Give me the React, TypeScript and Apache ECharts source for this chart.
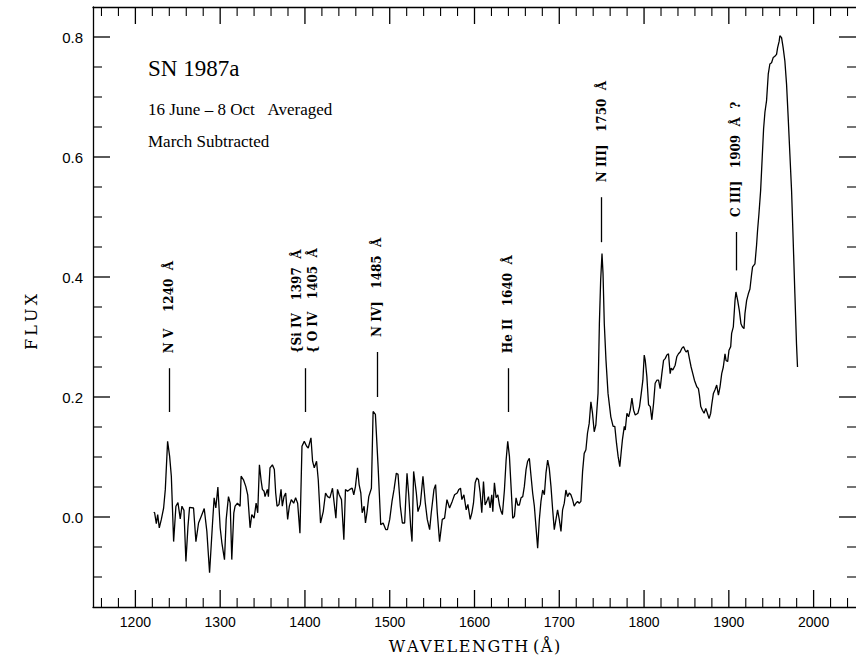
import React, { useEffect, useRef } from 'react';
import * as echarts from 'echarts';

// Spectrum: [wavelength (Å), flux]
const shortRegion: [number, number][] = [
  [1221.6,0.008],[1222.7,0.007],[1224.7,-0.011],[1226.3,0.004],[1228.2,-0.018],[1230.6,-0.004],[1233.3,0.015],[1235.3,0.046],[1238.0,0.126],[1240.4,0.101],
  [1242.4,0.068],[1245.1,-0.041],[1247.8,0.018],[1250.2,0.024],[1252.9,-0.003],[1254.9,0.018],[1257.3,0.011],[1259.6,-0.074],[1262.0,-0.016],[1263.9,0.016],
  [1268.6,0.015],[1271.4,-0.041],[1274.5,-0.010],[1277.6,0.001],[1281.2,0.014],[1284.3,-0.024],[1287.5,-0.093],[1291.0,-0.010],[1292.9,0.032],[1294.9,0.015],
  [1297.3,0.050],[1300.0,-0.018],[1302.0,-0.043],[1305.1,-0.071],[1307.1,-0.004],[1309.8,0.034],[1311.8,0.023],[1313.7,-0.071],[1316.1,0.007],[1317.6,0.018],
  [1320.4,0.023],[1323.5,0.018],[1324.7,0.068],[1327.5,0.062],[1330.2,0.051],[1332.5,0.037],[1335.3,-0.018],[1337.3,0.004],[1340.0,-0.002],[1342.4,0.023],
  [1344.3,0.007],[1346.3,0.087],[1348.2,0.062],[1349.8,0.046],[1351.8,0.043],[1352.9,0.034],[1355.7,0.046],[1356.9,0.034],[1358.8,0.082],[1361.6,0.087],
  [1363.9,0.079],[1365.5,0.040],[1367.1,0.018],[1369.4,0.021],[1371.8,0.046],[1373.3,0.018],[1375.3,0.034],[1377.3,0.040],[1379.6,-0.004],[1381.6,0.018],
  [1383.9,0.029],[1386.7,0.023],[1389.0,0.032],[1391.4,0.023],[1394.1,-0.027],[1396.5,0.118],[1399.2,0.126],[1402.0,0.118],[1403.9,0.115],[1407.1,0.132],
  [1409.0,0.093],[1411.0,0.082],[1413.7,0.093],[1415.7,0.062],[1418.4,-0.010],[1421.6,0.009],[1424.3,0.040],[1426.7,0.034],[1429.4,0.032],[1432.5,0.048],
  [1434.5,0.023],[1436.5,-0.002],[1438.4,0.046],[1440.4,0.037],[1443.1,0.029],[1445.9,-0.038],[1447.8,0.046],[1450.2,0.043],[1452.9,0.046],[1455.7,0.048],
  [1457.6,0.037],[1459.6,0.051],[1462.0,0.082],[1463.9,0.054],[1465.9,0.040],[1467.5,0.007],[1469.8,0.018],[1471.4,-0.010],[1473.3,0.009],[1475.3,0.034],
  [1478.4,0.048],[1480.4,0.176],[1483.1,0.171],[1486.3,0.084],[1489.4,-0.013],[1492.2,-0.010],[1495.3,-0.021],[1497.3,-0.021],[1500.0,-0.004],[1502.7,0.026],
  [1505.1,0.046],[1507.8,0.073],[1509.8,0.071],[1512.5,0.018],[1514.9,-0.010],[1517.6,-0.010],[1520.4,0.073],[1522.4,0.037],[1524.7,-0.016],[1526.3,-0.041],
  [1528.2,0.076],[1531.4,0.040],[1533.3,0.009],[1536.1,0.021],[1539.2,0.068],[1542.0,0.023],[1544.3,-0.004],[1547.1,-0.021],[1549.0,0.007],[1552.2,0.046],
  [1554.1,0.054],[1556.1,0.007],[1558.8,-0.041],[1562.0,-0.004],[1564.7,-0.002],[1567.5,0.029],[1570.6,0.015],[1573.7,0.026],[1576.5,0.037],[1579.6,0.040],
  [1581.6,0.046],[1583.5,0.048],[1585.1,0.029],[1587.5,0.037],[1590.2,0.012],[1592.2,0.021],
];

const midRegion: [number, number][] = [
  [1594.9,-0.004],[1596.9,0.007],[1598.8,0.023],[1600.8,0.057],[1602.7,0.065],[1604.7,0.062],[1606.7,0.040],[1608.6,0.007],[1610.6,0.059],[1612.5,0.020],
  [1614.5,0.026],[1616.5,0.034],[1618.4,0.015],[1620.4,0.037],[1621.6,0.009],[1623.5,0.057],[1625.5,0.032],[1627.5,0.037],[1629.4,0.020],[1631.4,0.009],
  [1632.9,0.004],[1635.3,0.045],[1637.3,0.095],[1639.2,0.126],[1641.2,0.101],[1643.1,0.051],[1645.1,-0.002],[1647.1,0.001],[1649.0,0.032],[1651.0,0.020],
  [1652.9,0.020],[1654.9,0.032],[1656.9,0.034],[1658.8,0.051],[1660.8,0.079],[1662.7,0.093],[1664.7,0.098],[1666.7,0.068],[1668.6,0.040],[1670.6,0.018],
  [1672.5,-0.016],[1674.5,-0.052],[1676.5,-0.004],[1678.4,0.026],[1680.4,0.045],[1682.4,0.037],[1684.3,0.073],[1686.3,0.095],[1688.2,0.081],[1690.2,0.051],
  [1692.2,0.012],[1694.1,-0.021],[1696.1,-0.004],[1698.0,0.012],[1700.0,-0.004],[1702.0,-0.024],[1703.9,0.012],[1705.9,0.023],[1707.8,0.045],[1709.8,0.034],
  [1711.8,0.040],[1713.7,0.037],[1715.7,0.029],[1717.6,0.018],[1719.6,0.023],[1721.6,0.026],[1723.5,0.023],[1725.5,0.026],[1727.5,0.076],[1729.4,0.106],
  [1731.4,0.112],[1733.3,0.140],[1735.3,0.156],[1737.3,0.192],[1739.2,0.173],[1741.2,0.142],[1743.1,0.153],
];

const nIIIRegion: [number, number][] = [
  [1745.7,0.206],[1747.3,0.322],[1748.8,0.394],[1750.4,0.439],[1751.6,0.406],[1753.1,0.322],[1755.1,0.261],[1757.5,0.206],
  [1760.8,0.167],[1763.5,0.151],[1765.5,0.151],[1767.5,0.123],[1769.4,0.101],[1771.4,0.084],[1773.3,0.112],[1774.5,0.129],
];

const longRegion: [number, number][] = [
  [1776.7,0.151],[1777.8,0.145],[1779.8,0.173],[1781.8,0.167],[1783.7,0.178],[1785.7,0.198],[1787.7,0.178],[1789.6,0.170],[1792.8,0.173],[1794.7,0.184],
  [1796.7,0.206],[1798.6,0.228],[1800.2,0.270],[1801.4,0.261],[1803.3,0.234],[1805.3,0.187],[1807.3,0.184],[1809.2,0.162],[1811.2,0.189],[1813.1,0.223],
  [1815.1,0.228],[1817.1,0.228],[1819.0,0.214],[1821.0,0.239],[1823.0,0.261],[1824.9,0.264],[1826.9,0.270],[1828.8,0.272],[1830.8,0.239],[1832.0,0.248],
  [1833.9,0.245],[1836.7,0.253],[1838.6,0.267],[1840.6,0.272],[1842.6,0.275],[1844.5,0.281],[1846.5,0.284],[1848.4,0.278],[1849.6,0.275],[1851.6,0.278],
  [1853.5,0.264],[1855.5,0.250],[1857.5,0.239],[1859.4,0.228],[1862.2,0.217],[1864.1,0.214],[1865.3,0.203],[1866.9,0.184],[1868.8,0.178],[1870.8,0.173],
  [1872.8,0.181],[1874.7,0.173],[1876.7,0.164],[1878.6,0.173],[1879.8,0.187],[1881.8,0.206],[1883.7,0.212],[1885.7,0.220],[1887.7,0.203],[1889.6,0.217],
  [1891.6,0.239],[1893.5,0.250],[1895.5,0.272],[1896.7,0.261],[1898.6,0.259],[1900.2,0.278],[1902.2,0.284],[1903.3,0.306],[1905.3,0.317],[1907.3,0.361],
  [1908.4,0.375],[1910.4,0.361],[1912.4,0.344],[1914.3,0.322],[1915.9,0.317],[1917.9,0.314],[1919.0,0.339],[1921.0,0.361],[1923.0,0.372],[1924.9,0.380],
  [1926.9,0.405],[1928.0,0.417],[1930.8,0.422],[1932.7,0.453],[1933.9,0.478],[1935.5,0.505],[1937.5,0.544],[1939.4,0.600],[1941.0,0.647],[1942.6,0.675],
  [1944.5,0.694],[1946.5,0.738],[1948.4,0.755],[1950.4,0.757],[1952.4,0.766],[1954.3,0.768],[1956.3,0.771],[1957.5,0.782],[1959.4,0.793],[1960.2,0.802],
  [1962.2,0.799],[1964.1,0.782],[1966.1,0.760],[1968.1,0.721],[1970.0,0.666],[1972.0,0.605],[1974.0,0.544],[1975.9,0.461],[1977.9,0.372],[1979.8,0.289],
  [1981.0,0.250],
];

// Line identifications
const markerWavelengths = [1240, 1400, 1485, 1640, 1750, 1909];
const markerLow = [0.175, 0.175, 0.200, 0.175, 0.458, 0.411];
const markerHigh = [0.248, 0.248, 0.275, 0.248, 0.533, 0.475];
const NB = '\u00A0';
const markerLabels = [
  `N${NB}V${NB}${NB}${NB}${NB}1240${NB}${NB}Å`,
  `{Si${NB}IV${NB}${NB}${NB}1397${NB}${NB}Å\n{${NB}O${NB}IV${NB}${NB}${NB}1405${NB}${NB}Å`,
  `N${NB}IV]${NB}${NB}${NB}1485${NB}${NB}Å`,
  `He${NB}II${NB}${NB}${NB}1640${NB}${NB}Å`,
  `N${NB}III]${NB}${NB}${NB}1750${NB}${NB}Å`,
  `C${NB}III]${NB}${NB}${NB}1909${NB}${NB}Å${NB}${NB}?`,
];

// Axes
const xMin = 1150;
const xMax = 2050;
const yMin = -0.15;
const yMax = 0.85;
const xMajorTicks = [1200, 1300, 1400, 1500, 1600, 1700, 1800, 1900, 2000];
const xMinorStep = 20;
const yMajorTicks = [0.0, 0.2, 0.4, 0.6, 0.8];
const yMinorStep = 0.05;

const titleLines = ['SN 1987a', `16 June – 8 Oct${NB}${NB}${NB}Averaged`, 'March Subtracted'];
const xAxisTitle = 'W\u200AA\u200AV\u200AE\u200AL\u200AE\u200AN\u200AG\u200AT\u200AH\u2009\u200A(\u200AÅ\u200A)';
const yAxisTitle = 'F\u2009L\u2009U\u2009X';

const SERIF = "'DejaVu Serif', 'Liberation Serif', serif";
const TSERIF = "'Liberation Serif', 'DejaVu Serif', serif";
const SANS = "'Liberation Sans', Arial, sans-serif";
const black = '#000';

const mkLine = (show = true) => ({ show, onZero: false, lineStyle: { color: black, width: 1.3 } });

export default function App() {
  const ref = useRef<HTMLDivElement>(null);
  useEffect(() => {
    if (!ref.current) return;
    const chart = echarts.init(ref.current, null, { renderer: 'svg' });
    const spectrum = [...shortRegion, ...midRegion, ...nIIIRegion, ...longRegion];
    const noTicks = { show: false };
    const option: any = {
      animation: false,
      backgroundColor: '#ffffff',
      grid: { left: 93, top: 7, width: 765, height: 600, containLabel: false },
      xAxis: [
        {
          type: 'value', min: xMin, max: xMax, splitNumber: 9, position: 'bottom',
          name: xAxisTitle, nameLocation: 'middle', nameGap: 31,
          nameTextStyle: { fontFamily: SERIF, fontSize: 16, color: black },
          axisLine: mkLine(), axisTick: noTicks, minorTick: noTicks, splitLine: { show: false },
          axisLabel: {
            showMinLabel: false, showMaxLabel: false, margin: 8, color: black, fontFamily: SANS, fontSize: 14,
            formatter: (v: number) => String(v),
          },
        },
        {
          type: 'value', min: xMin, max: xMax, splitNumber: 9, position: 'top',
          axisLine: mkLine(), axisTick: noTicks, minorTick: noTicks, splitLine: { show: false }, axisLabel: { show: false },
        },
      ],
      yAxis: [
        {
          type: 'value', min: yMin, max: yMax, splitNumber: 5, position: 'left',
          axisLine: mkLine(), axisTick: noTicks, minorTick: noTicks, splitLine: { show: false },
          axisLabel: {
            showMinLabel: false, showMaxLabel: false, margin: 10, color: black, fontFamily: SANS, fontSize: 15,
            formatter: (v: number) => v.toFixed(1),
          },
        },
        {
          type: 'value', min: yMin, max: yMax, splitNumber: 5, position: 'right',
          axisLine: mkLine(false), axisTick: noTicks, minorTick: noTicks, splitLine: { show: false }, axisLabel: { show: false },
        },
      ],
      series: [
        {
          type: 'line', data: spectrum, xAxisIndex: 0, yAxisIndex: 0,
          showSymbol: false, symbol: 'none', lineStyle: { color: black, width: 1.3 },
          markLine: {
            silent: true, symbol: ['none', 'none'], label: { show: false },
            lineStyle: { color: black, width: 1.3, type: 'solid' },
            data: markerWavelengths.map((w, i) => [{ coord: [w, markerLow[i]] }, { coord: [w, markerHigh[i]] }]),
          },
        },
      ],
    };
    chart.setOption(option);

    const px = (x: number, y: number) => chart.convertToPixel({ gridIndex: 0 }, [x, y]) as number[];
    const [left, bottom] = px(xMin, yMin);
    const [right, top] = px(xMax, yMax);
    const tickStyle = (w: number) => ({ stroke: black, lineWidth: w });
    const ticks: any[] = [];
    const MAJ = 17;
    const MIN = 9;
    // x ticks, bottom and top, pointing inwards
    for (let v = xMin; v <= xMax + 1e-6; v += 10) {
      const isMajor = xMajorTicks.includes(v);
      const isMinor = !isMajor && (v % xMinorStep === 0);
      if (!isMajor && !isMinor) continue;
      if (v === xMin || v === xMax) continue;
      const x = px(v, yMin)[0];
      const len = isMajor ? MAJ : MIN;
      const w = isMajor ? 1.3 : 1.1;
      ticks.push({ type: 'line', silent: true, shape: { x1: x, y1: bottom, x2: x, y2: bottom - len }, style: tickStyle(w) });
      ticks.push({ type: 'line', silent: true, shape: { x1: x, y1: top, x2: x, y2: top + len }, style: tickStyle(w) });
    }
    // y ticks, left and right, pointing inwards
    const nY = Math.round((yMax - yMin) / yMinorStep);
    for (let k = 1; k < nY; k++) {
      const v = Math.round((yMin + k * yMinorStep) * 1000) / 1000;
      const isMajor = yMajorTicks.some((m) => Math.abs(m - v) < 1e-6);
      const y = px(xMin, v)[1];
      const len = isMajor ? MAJ : MIN;
      const w = isMajor ? 1.3 : 1.1;
      ticks.push({ type: 'line', silent: true, shape: { x1: left, y1: y, x2: left + len, y2: y }, style: tickStyle(w) });
      ticks.push({ type: 'line', silent: true, shape: { x1: right, y1: y, x2: right - len, y2: y }, style: tickStyle(w) });
    }

    const labelGraphics = markerWavelengths.map((w, i) => {
      const p = px(w, markerHigh[i]);
      return {
        type: 'text', x: p[0], y: p[1] - 15, rotation: Math.PI / 2, silent: true,
        style: {
          text: markerLabels[i], font: `bold 12px ${SERIF}`, fill: black, lineHeight: 16,
          align: 'left', verticalAlign: 'middle', textAlign: 'left', textVerticalAlign: 'middle',
        },
      };
    });
    const titleY = [68, 109, 141];
    const titleSize = [23, 17, 17];
    const titleGraphics = titleLines.map((t, i) => ({
      type: 'text', x: 148, y: titleY[i], silent: true,
      style: {
        text: t, font: `${titleSize[i]}px ${TSERIF}`, fill: black,
        align: 'left', verticalAlign: 'middle', textAlign: 'left', textVerticalAlign: 'middle',
      },
    }));
    const yTitle = {
      type: 'text', x: 31, y: 322, rotation: Math.PI / 2, silent: true,
      style: {
        text: yAxisTitle, font: `16px ${SERIF}`, fill: black,
        align: 'center', verticalAlign: 'middle', textAlign: 'center', textVerticalAlign: 'middle',
      },
    };
    chart.setOption({ graphic: [...ticks, ...titleGraphics, ...labelGraphics, yTitle] });
    return () => chart.dispose();
  }, []);
  return (
    <div
      ref={ref}
      style={{ position: 'fixed', left: 0, top: 0, width: 856, height: 661, background: '#fff' }}
    />
  );
}
